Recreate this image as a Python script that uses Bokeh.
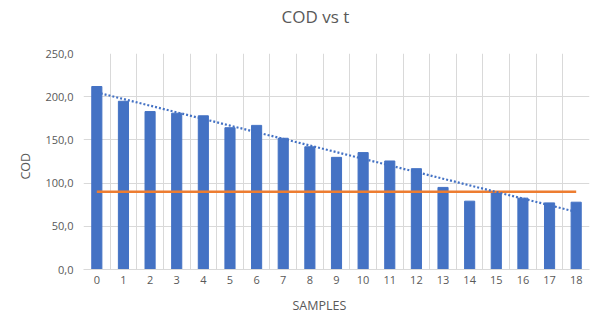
import numpy as np
from bokeh.plotting import figure
from bokeh.models import Range1d, FixedTicker, CustomJSTickFormatter, Title
from bokeh.embed import file_html
from bokeh.resources import INLINE

samples = list(range(19))
cod = [211.8, 194.7, 182.8, 180.9, 177.9, 164.1, 166.8, 151.9, 142.0, 129.8,
       135.3, 125.6, 116.7, 95.0, 79.1, 88.8, 82.6, 77.1, 77.9]
limit = [90.0, 90.0, 90.0, 90.0, 90.0, 90.0, 90.0, 90.0, 90.0, 90.0,
         90.0, 90.0, 90.0, 90.0, 90.0, 90.0, 90.0, 90.0, 90.0]
y_ticks = [0, 50, 100, 150, 200, 250]

# linear trendline of COD
coef = np.polyfit(samples, cod, 1)
trend = list(np.polyval(coef, samples))

FONT = "Open Sans"
TXT = "#595959"
GRID = "#D9D9D9"

p = figure(width=600, height=329, output_backend="svg", toolbar_location=None,
           x_range=Range1d(-0.5, 18.5), y_range=Range1d(0, 250),
           min_border_left=83, min_border_right=11, min_border_top=53,
           min_border_bottom=60)
p.outline_line_color = None
p.background_fill_color = "white"
p.border_fill_color = "white"

# spacer between frame and chart title, then the chart title
p.add_layout(Title(text=" ", standoff=23, text_font_size="1px"), "above")
p.add_layout(Title(text="COD vs t", align="left", offset=198, vertical_align="bottom",
                   standoff=0, text_font=FONT, text_font_size="17px",
                   text_font_style="normal", text_color=TXT), "above")

p.vbar(x=samples, top=cod, width=0.38, color="#4472C4")
p.line(samples, limit, line_color="#ED7D31", line_width=2.5)
p.line(samples, trend, line_color="#4472C4", line_width=2.2, line_dash="2 2")

# axes
p.xaxis.ticker = FixedTicker(ticks=samples)
p.yaxis.ticker = FixedTicker(ticks=y_ticks)
p.yaxis.formatter = CustomJSTickFormatter(code="return tick.toFixed(1).replace('.', ',');")
for ax in (p.xaxis[0], p.yaxis[0]):
    ax.major_label_text_font = FONT
    ax.major_label_text_font_size = "11px"
    ax.major_label_text_color = TXT
    ax.major_tick_line_color = None
    ax.minor_tick_line_color = None
p.xaxis.axis_line_color = GRID
p.yaxis.axis_line_color = None
p.xaxis.major_label_standoff = 0
p.yaxis.major_label_standoff = 4

# axis titles
p.add_layout(Title(text="SAMPLES", align="left", offset=209, vertical_align="top",
                   standoff=20, text_font=FONT, text_font_size="12.5px",
                   text_font_style="normal", text_color=TXT), "below")
p.add_layout(Title(text="COD", align="left", offset=90, vertical_align="bottom",
                   standoff=17, text_font=FONT, text_font_size="12.5px",
                   text_font_style="normal", text_color=TXT), "left")

p.xgrid.ticker = FixedTicker(ticks=[s - 0.5 for s in samples] + [samples[-1] + 0.5])
p.xgrid.grid_line_color = GRID
p.ygrid.grid_line_color = GRID

open("out.html", "w").write(file_html(p, INLINE))
